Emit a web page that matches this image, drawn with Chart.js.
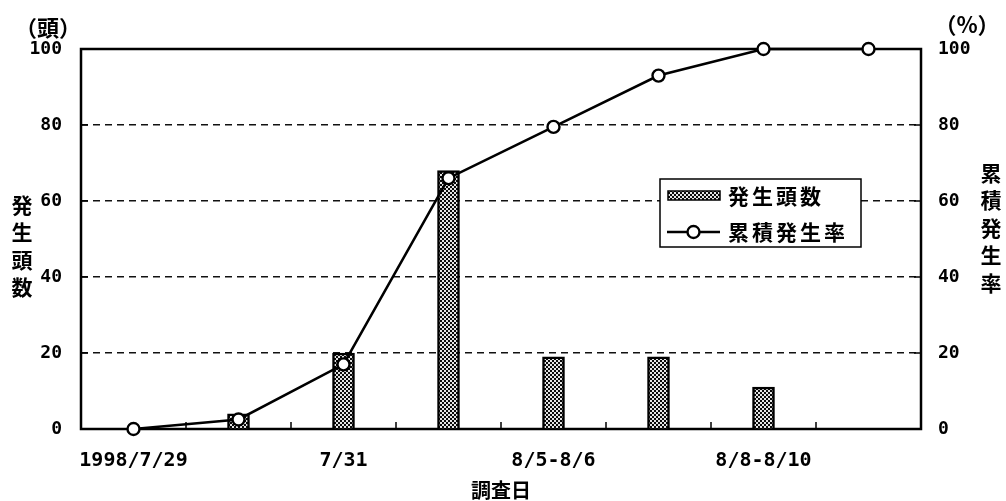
<!DOCTYPE html>
<html>
<head>
<meta charset="utf-8">
<script src="https://cdn.jsdelivr.net/npm/chart.js@4/dist/chart.umd.min.js"></script>
<style>
  html, body { margin: 0; padding: 0; background: #fff; }
  canvas { display: block; }
</style>
</head>
<body>
<canvas id="chart" width="1006" height="501"></canvas>
<script>
// Survey dates (only every other date carries a label on the axis)
const tickLabels = ['1998/7/29', '', '7/31', '', '8/5-8/6', '', '8/8-8/10', ''];
// Number of individuals emerged on each survey date (頭)
const emergedCount = [null, 4, 20, 68, 19, 19, 11, null];
// Cumulative emergence rate (%)
const cumulativeRate = [0, 2.5, 17, 66, 79.5, 93, 100, 100];
// Shared tick values for both vertical axes
const axisMin = 0;
const axisMax = 100;
const axisStep = 20;

const canvas = document.getElementById('chart');
const ctx = canvas.getContext('2d');

// Fine checkered fill used for the count bars
function checkerFill() {
  const tile = document.createElement('canvas');
  tile.width = 4; tile.height = 4;
  const g = tile.getContext('2d');
  g.fillStyle = '#e4e4e4'; g.fillRect(0, 0, 4, 4);
  g.fillStyle = '#0a0a0a'; g.fillRect(0, 0, 2, 2); g.fillRect(2, 2, 2, 2);
  return ctx.createPattern(tile, 'repeat');
}
const barFill = checkerFill();

const numFont = { family: '"DejaVu Sans Mono", monospace', weight: 'bold' };
const cjkFamily = '"Noto Sans CJK JP", "Noto Sans CJK SC", sans-serif';

// Frame, inward ticks, titles and the boxed legend
const decorations = {
  id: 'decorations',
  beforeDatasetsDraw(chart) {
    const { ctx, chartArea: a, scales } = chart;
    ctx.save();
    ctx.strokeStyle = '#000';
    ctx.lineWidth = 2.5;
    ctx.strokeRect(a.left, a.top, a.right - a.left, a.bottom - a.top);
    ctx.lineWidth = 1.5;
    ctx.beginPath();
    for (let v = axisMin + axisStep; v < axisMax; v += axisStep) {
      const y = scales.y.getPixelForValue(v);
      ctx.moveTo(a.left, y); ctx.lineTo(a.left + 7, y);
      ctx.moveTo(a.right, y); ctx.lineTo(a.right - 7, y);
    }
    for (let i = 1; i < tickLabels.length; i++) {
      const x = (scales.x.getPixelForValue(i - 1) + scales.x.getPixelForValue(i)) / 2;
      ctx.moveTo(x, a.bottom); ctx.lineTo(x, a.bottom - 7);
    }
    ctx.stroke();
    ctx.restore();
  },
  afterDraw(chart) {
    const { ctx, chartArea: a } = chart;
    const [lineSet, barSet] = chart.data.datasets;
    ctx.save();
    ctx.fillStyle = '#000';
    ctx.textAlign = 'center';
    ctx.textBaseline = 'middle';

    // units above the axes
    ctx.font = 'bold 22px ' + cjkFamily;
    ctx.fillText('（頭）', 48, 28);
    ctx.fillText('（%）', 967, 25);

    // stacked vertical axis titles
    ctx.font = 'bold 21px ' + cjkFamily;
    const leftTitle = '発生頭数';
    [...leftTitle].forEach((ch, i) => ctx.fillText(ch, 22, 205 + i * 27.5));
    const rightTitle = '累積発生率';
    [...rightTitle].forEach((ch, i) => ctx.fillText(ch, 991, 173 + i * 27.5));

    // horizontal axis title
    ctx.font = 'bold 20px ' + cjkFamily;
    ctx.fillText('調査日', (a.left + a.right) / 2, 490);

    // legend box
    const bx = 660, by = 179, bw = 201, bh = 68;
    ctx.fillStyle = '#fff';
    ctx.fillRect(bx, by, bw, bh);
    ctx.strokeStyle = '#000';
    ctx.lineWidth = 1.5;
    ctx.strokeRect(bx, by, bw, bh);

    // bar entry
    ctx.fillStyle = barSet.backgroundColor;
    ctx.fillRect(668, 191, 52, 9);
    ctx.lineWidth = 1.5;
    ctx.strokeStyle = barSet.borderColor;
    ctx.strokeRect(668, 191, 52, 9);

    // line entry
    ctx.strokeStyle = lineSet.borderColor;
    ctx.lineWidth = lineSet.borderWidth;
    ctx.beginPath(); ctx.moveTo(667, 232); ctx.lineTo(720, 232); ctx.stroke();
    ctx.beginPath(); ctx.arc(693.5, 232, lineSet.pointRadius, 0, Math.PI * 2);
    ctx.fillStyle = lineSet.pointBackgroundColor; ctx.fill();
    ctx.lineWidth = lineSet.pointBorderWidth; ctx.strokeStyle = lineSet.pointBorderColor; ctx.stroke();

    ctx.fillStyle = '#000';
    ctx.textAlign = 'left';
    ctx.font = 'bold 21px ' + cjkFamily;
    if ('letterSpacing' in ctx) ctx.letterSpacing = '3px';
    ctx.fillText(barSet.label, 728, 196);
    ctx.fillText(lineSet.label, 728, 232);
    ctx.restore();
  }
};

new Chart(ctx, {
  data: {
    labels: tickLabels,
    datasets: [
      {
        type: 'line',
        label: '累積発生率',
        data: cumulativeRate,
        yAxisID: 'y1',
        borderColor: '#000',
        borderWidth: 2.6,
        tension: 0,
        pointRadius: 6,
        pointBackgroundColor: '#fff',
        pointBorderColor: '#000',
        pointBorderWidth: 2.4,
        clip: false,
        order: 0
      },
      {
        type: 'bar',
        label: '発生頭数',
        data: emergedCount,
        yAxisID: 'y',
        backgroundColor: barFill,
        borderColor: '#000',
        borderWidth: 2.5,
        barThickness: 22,
        order: 1
      }
    ]
  },
  options: {
    responsive: false,
    animation: false,
    devicePixelRatio: 1,
    layout: { padding: { top: 49, left: 0, right: 0, bottom: 0 } },
    plugins: { legend: { display: false }, tooltip: { enabled: false } },
    scales: {
      x: {
        offset: true,
        grid: { display: false, drawTicks: false },
        border: { display: false },
        ticks: {
          autoSkip: false, maxRotation: 0, padding: 20, color: '#000',
          font: { ...numFont, size: 20 }
        },
        afterFit(s) { s.height = 72; }
      },
      y: {
        position: 'left',
        min: axisMin, max: axisMax,
        ticks: { stepSize: axisStep, padding: 19, color: '#000', font: { ...numFont, size: 18 } },
        grid: {
          drawTicks: false,
          lineWidth: 1.5,
          color: c => (c.tick && (c.tick.value === axisMin || c.tick.value === axisMax)) ? 'rgba(0,0,0,0)' : '#111'
        },
        border: { display: false, dash: [7, 5] },
        afterFit(s) { s.width = 81; }
      },
      y1: {
        position: 'right',
        min: axisMin, max: axisMax,
        ticks: { stepSize: axisStep, padding: 17, color: '#000', font: { ...numFont, size: 18 } },
        grid: { drawOnChartArea: false, drawTicks: false },
        border: { display: false },
        afterFit(s) { s.width = 85; }
      }
    }
  },
  plugins: [decorations]
});
</script>
</body>
</html>
